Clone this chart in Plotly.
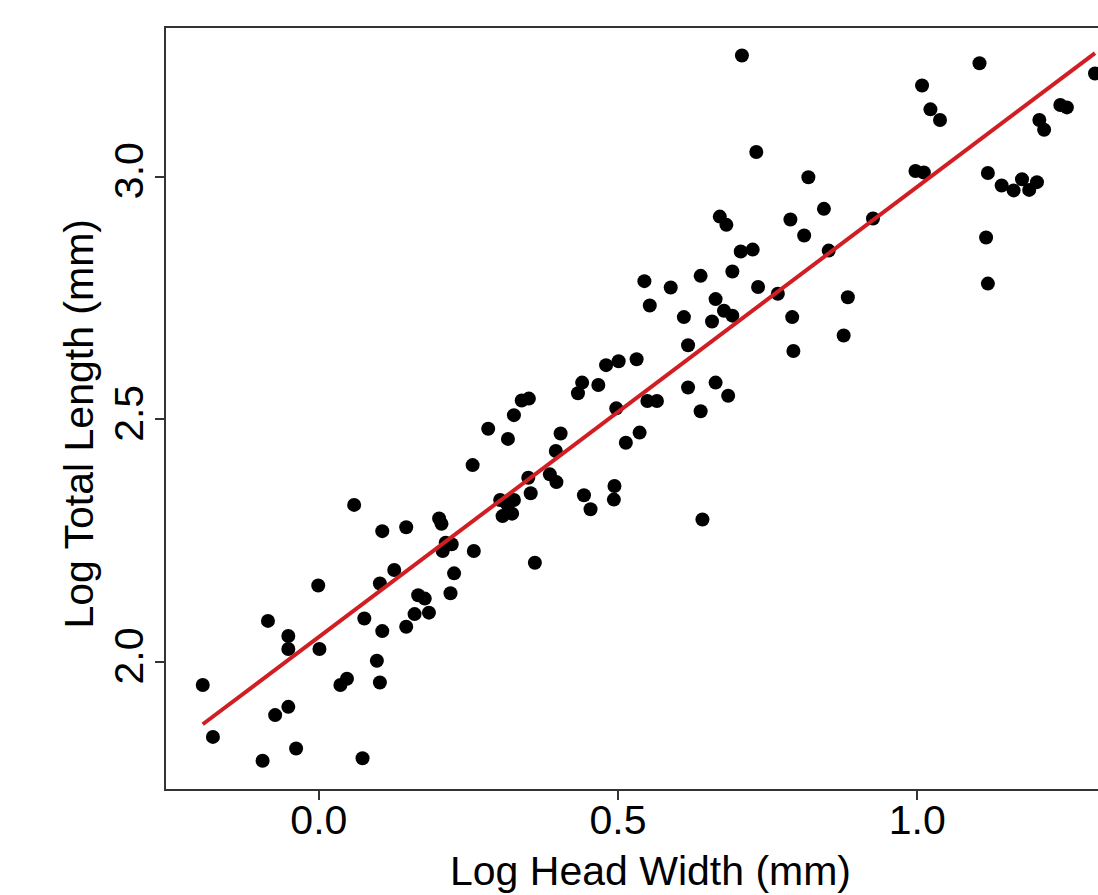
import plotly.graph_objects as go

# Data (log head width, log total length)
log_head_width = [
    0.059, 0.106, 0.146, 0.201, 0.205, 0.212, 0.207, 0.222, 0.226, 0.220,
    -0.001, 0.102, 0.126, -0.085, -0.051, -0.051, 0.001, 0.076, 0.106, 0.146,
    0.160, 0.166, 0.177, 0.184, -0.194, -0.177, -0.073, -0.051, 0.036, 0.047,
    0.097, 0.102, -0.094, -0.038, 0.073,
    0.259, 0.257, 0.283, 0.316, 0.326, 0.339, 0.351, 0.303, 0.315, 0.326,
    0.307, 0.323, 0.350, 0.354, 0.361, 0.396, 0.404, 0.386, 0.397, 0.443,
    0.454, 0.494, 0.493, 0.433, 0.440, 0.467, 0.480, 0.501, 0.497,
    0.513, 0.536, 0.549, 0.565, 0.531, 0.617, 0.638, 0.663, 0.684, 0.617,
    0.610, 0.657, 0.663, 0.677, 0.691, 0.544, 0.553, 0.588, 0.638, 0.691,
    0.734, 0.767, 0.791, 0.793, 0.705, 0.725, 0.670, 0.681, 0.788, 0.811,
    0.844, 0.852, 0.884, 0.877, 0.926,
    0.818, 0.997, 1.011, 1.008, 1.022, 1.038, 1.104, 1.118, 1.141, 1.161,
    1.175, 1.187, 1.200, 1.115, 1.118, 1.204, 1.212, 1.239, 1.250, 1.297,
    0.707, 0.731, 0.641,
]
log_total_length = [
    2.324, 2.270, 2.278, 2.296, 2.285, 2.246, 2.229, 2.243, 2.183, 2.142,
    2.158, 2.162, 2.190, 2.085, 2.054, 2.027, 2.027, 2.090, 2.064, 2.073,
    2.099, 2.138, 2.131, 2.102, 1.953, 1.846, 1.891, 1.908, 1.953, 1.966,
    2.003, 1.958, 1.797, 1.822, 1.802,
    2.229, 2.406, 2.481, 2.460, 2.509, 2.539, 2.543, 2.334, 2.325, 2.334,
    2.301, 2.306, 2.380, 2.348, 2.205, 2.435, 2.471, 2.387, 2.371, 2.344,
    2.315, 2.363, 2.335, 2.554, 2.576, 2.571, 2.612, 2.620, 2.523,
    2.452, 2.473, 2.538, 2.538, 2.624, 2.566, 2.517, 2.576, 2.549, 2.653,
    2.711, 2.702, 2.748, 2.724, 2.714, 2.785, 2.735, 2.772, 2.796, 2.805,
    2.773, 2.759, 2.711, 2.641, 2.846, 2.850, 2.918, 2.901, 2.912, 2.879,
    2.934, 2.848, 2.752, 2.673, 2.914,
    2.999, 3.012, 3.009, 3.188, 3.139, 3.117, 3.234, 3.008, 2.982, 2.972,
    2.995, 2.973, 2.989, 2.875, 2.780, 3.117, 3.097, 3.148, 3.143, 3.213,
    3.250, 3.051, 2.294,
]

# Fitted regression line
fit_intercept = 2.052
fit_slope = 0.9275

x_ticks = [0.0, 0.5, 1.0]
x_tick_labels = ["0.0", "0.5", "1.0"]
y_ticks = [2.0, 2.5, 3.0]
y_tick_labels = ["2.0", "2.5", "3.0"]

x_title = "Log Head Width (mm)"
y_title = "Log Total Length (mm)"

x_line = [min(log_head_width), max(log_head_width)]
y_line = [fit_intercept + fit_slope * v for v in x_line]

FONT = "Liberation Sans, Arial, sans-serif"
FS = 41

fig = go.Figure()
fig.add_trace(go.Scatter(
    x=log_head_width, y=log_total_length, mode="markers",
    marker=dict(color="black", size=14, line=dict(width=0)),
    showlegend=False, cliponaxis=True,
))
fig.add_trace(go.Scatter(
    x=x_line, y=y_line, mode="lines",
    line=dict(color="rgb(208,30,35)", width=4),
    showlegend=False,
))

fig.update_layout(
    width=1098, height=895,
    margin=dict(l=166, r=0, t=28, b=106),
    paper_bgcolor="white", plot_bgcolor="white",
    font=dict(family=FONT, size=FS, color="black"),
)
fig.update_xaxes(
    range=[-0.2554, 1.302], automargin=False,
    tickvals=x_ticks, ticktext=x_tick_labels,
    showgrid=False, zeroline=False,
    showline=True, linecolor="#333", linewidth=2, mirror=True,
    ticks="outside", ticklen=9, tickwidth=2, tickcolor="#333",
    tickfont=dict(size=FS), ticklabelstandoff=-15,
)
fig.update_yaxes(
    range=[1.7387, 3.3066], automargin=False,
    tickvals=y_ticks, ticktext=y_tick_labels, tickangle=-90,
    showgrid=False, zeroline=False,
    showline=True, linecolor="#333", linewidth=2, mirror=False,
    ticks="outside", ticklen=9, tickwidth=2, tickcolor="#333",
    tickfont=dict(size=FS), ticklabelstandoff=-4,
)

# Axis titles placed as annotations
fig.add_annotation(
    text=x_title, xref="paper", yref="paper", x=0.52, y=0,
    xanchor="center", yanchor="middle", yshift=-82, showarrow=False,
    font=dict(size=FS),
)
fig.add_annotation(
    text=y_title, xref="paper", yref="paper", x=0, y=0.5, textangle=-90,
    xanchor="center", yanchor="middle", xshift=-88, yshift=-16,
    showarrow=False, font=dict(size=FS),
)

fig.write_html(
    "out.html",
    config={"displayModeBar": False},
    post_script="document.body.style.margin='0';document.body.style.overflow='hidden';",
)
